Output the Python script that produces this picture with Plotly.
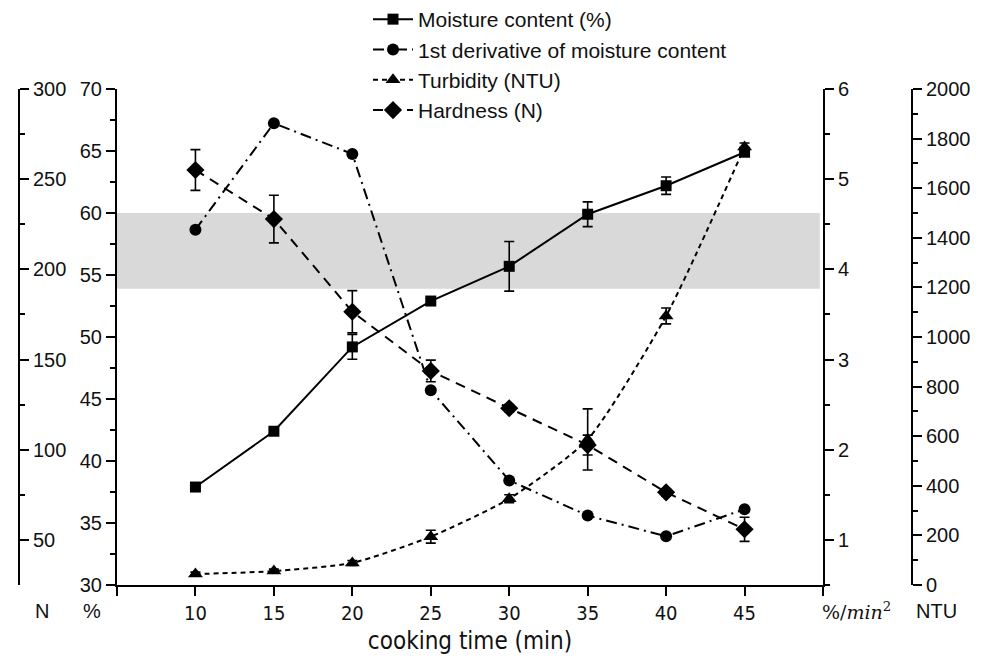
import plotly.graph_objects as go

# ---- data ----
time_min = [10, 15, 20, 25, 30, 35, 40, 45]
moisture = [37.9, 42.4, 49.2, 52.9, 55.7, 59.9, 62.2, 64.9]
moisture_err = [0.15, 0.15, 1.0, 0.2, 2.0, 1.0, 0.7, 0.3]
derivative = [4.44, 5.62, 5.28, 2.66, 1.66, 1.27, 1.04, 1.34]
turbidity = [44, 56, 89, 195, 348, 587, 1085, 1766]
turbidity_err = [8, 8, 10, 26, 16, 123, 32, 16]
hardness = [255.1, 227.9, 176.5, 143.7, 123.0, 102.6, 76.4, 55.9]
hardness_err = [11.3, 13.2, 11.7, 6.0, 2.0, 5.5, 2.0, 6.7]
band_range = [53.9, 60.0]
x_ticks = [5, 10, 15, 20, 25, 30, 35, 40, 45, 50]
x_ticktext = [" ", "10", "15", "20", "25", "30", "35", "40", "45", " "]

OFF = 8  # default page body margin
W, H = 983 - OFF, 663 - OFF
# reference pixel positions (page coords)
L_REF, R_REF, T_REF, B_REF = 19, 912, 89, 585
PLOT_L, PLOT_R = 117, 823
L, R, T, B = L_REF - OFF, R_REF - OFF, T_REF - OFF, B_REF - OFF


def px(x):
    return (x - OFF - L) / (R - L)


def py(y):
    return (B - (y - OFF)) / (B - T)


FONT = "Liberation Sans, Arial, sans-serif"
NARROW = "Liberation Sans Narrow, DejaVu Sans Condensed, Arial Narrow, sans-serif"
BLACK = "#000000"
TXT = "#111111"

fig = go.Figure()

fig.add_trace(go.Scatter(
    x=time_min, y=moisture, name="Moisture content (%)", yaxis="y",
    mode="lines+markers", line=dict(color=BLACK, width=2),
    marker=dict(symbol="square", size=11, color=BLACK),
    error_y=dict(type="data", array=moisture_err, color=BLACK, thickness=1.6, width=5),
    legendgroup="a"))
fig.add_trace(go.Scatter(
    x=time_min, y=derivative, name="1st derivative of moisture content", yaxis="y3",
    mode="lines+markers", line=dict(color=BLACK, width=2, dash="11px,5px,2px,5px"),
    marker=dict(symbol="circle", size=12, color=BLACK),
    legendgroup="b"))
fig.add_trace(go.Scatter(
    x=time_min, y=turbidity, name="Turbidity (NTU)", yaxis="y4",
    mode="lines+markers", line=dict(color=BLACK, width=2, dash="5px,4px", shape="spline", smoothing=0.6),
    marker=dict(symbol="triangle-up", size=13, color=BLACK),
    error_y=dict(type="data", array=turbidity_err, color=BLACK, thickness=1.6, width=5),
    legendgroup="c"))
fig.add_trace(go.Scatter(
    x=time_min, y=hardness, name="Hardness (N)", yaxis="y2",
    mode="lines+markers", line=dict(color=BLACK, width=2, dash="10px,7px"),
    marker=dict(symbol="diamond", size=14, color=BLACK),
    error_y=dict(type="data", array=hardness_err, color=BLACK, thickness=1.6, width=5),
    legendgroup="d"))

fig.add_shape(type="rect", xref="x", yref="y", x0=5, x1=49.8, y0=band_range[0], y1=band_range[1],
              fillcolor="#d9d9d9", line=dict(width=0), layer="below")

axis_common = dict(showline=True, linecolor=BLACK, linewidth=2, ticks="outside", ticklen=9,
                   tickwidth=2, tickcolor=BLACK, showgrid=False, zeroline=False, automargin=False,
                   tickfont=dict(family=FONT, size=20, color=TXT))

fig.update_layout(
    width=W, height=H,
    margin=dict(l=L, r=W - R, t=T, b=H - B, pad=0, autoexpand=False),
    paper_bgcolor="white", plot_bgcolor="white",
    xaxis=dict(domain=[px(PLOT_L), px(PLOT_R)], range=[5, 50], tickvals=x_ticks, ticktext=x_ticktext,
               showline=True, linecolor=BLACK, linewidth=2, ticks="outside", ticklen=9, tickwidth=2,
               tickcolor=BLACK, showgrid=False, zeroline=False, automargin=False,
               tickfont=dict(family=NARROW, size=20, color=TXT),
               title=dict(text="cooking time (min)", font=dict(family=NARROW, size=24, color=TXT),
                          standoff=8)),
    yaxis=dict(range=[30, 70], dtick=5, side="left", anchor="x",
               minor=dict(dtick=2.5, ticks="outside", ticklen=5, tickwidth=2, tickcolor=BLACK),
               **axis_common),
    yaxis2=dict(range=[25, 300], tickvals=[50, 100, 150, 200, 250, 300], side="right", anchor="free",
                position=0, overlaying="y",
                minor=dict(tickvals=[75, 125, 175, 225, 275], ticks="outside", ticklen=5, tickwidth=2,
                           tickcolor=BLACK),
                **axis_common),
    yaxis3=dict(range=[0.5, 6], dtick=1, tick0=0, side="right", anchor="x", overlaying="y",
                minor=dict(dtick=0.5, tick0=0, ticks="outside", ticklen=5, tickwidth=2, tickcolor=BLACK),
                **axis_common),
    yaxis4=dict(range=[0, 2000], dtick=200, side="right", anchor="free", position=1, overlaying="y",
                minor=dict(dtick=100, ticks="outside", ticklen=5, tickwidth=2, tickcolor=BLACK),
                **axis_common),
    legend=dict(x=px(368), y=py(-1), xref="paper", yref="paper", xanchor="left",
                yanchor="top", font=dict(family=FONT, size=21, color=TXT), bgcolor="rgba(0,0,0,0)",
                tracegroupgap=0, itemwidth=40),
    showlegend=True,
)

for txt, xpix in [("N", 42), ("%", 92), ("NTU", 936)]:
    fig.add_annotation(text=txt, x=px(xpix), y=py(611), xref="paper", yref="paper", showarrow=False,
                       xanchor="center", yanchor="middle", font=dict(family=FONT, size=20, color=TXT))
fig.add_annotation(text="%/<i>min</i><sup>2</sup>", x=px(856), y=py(611), xref="paper", yref="paper",
                   showarrow=False, xanchor="center", yanchor="middle",
                   font=dict(family="DejaVu Serif, Liberation Serif, serif", size=19, color=TXT))

fig.write_html("out.html")
